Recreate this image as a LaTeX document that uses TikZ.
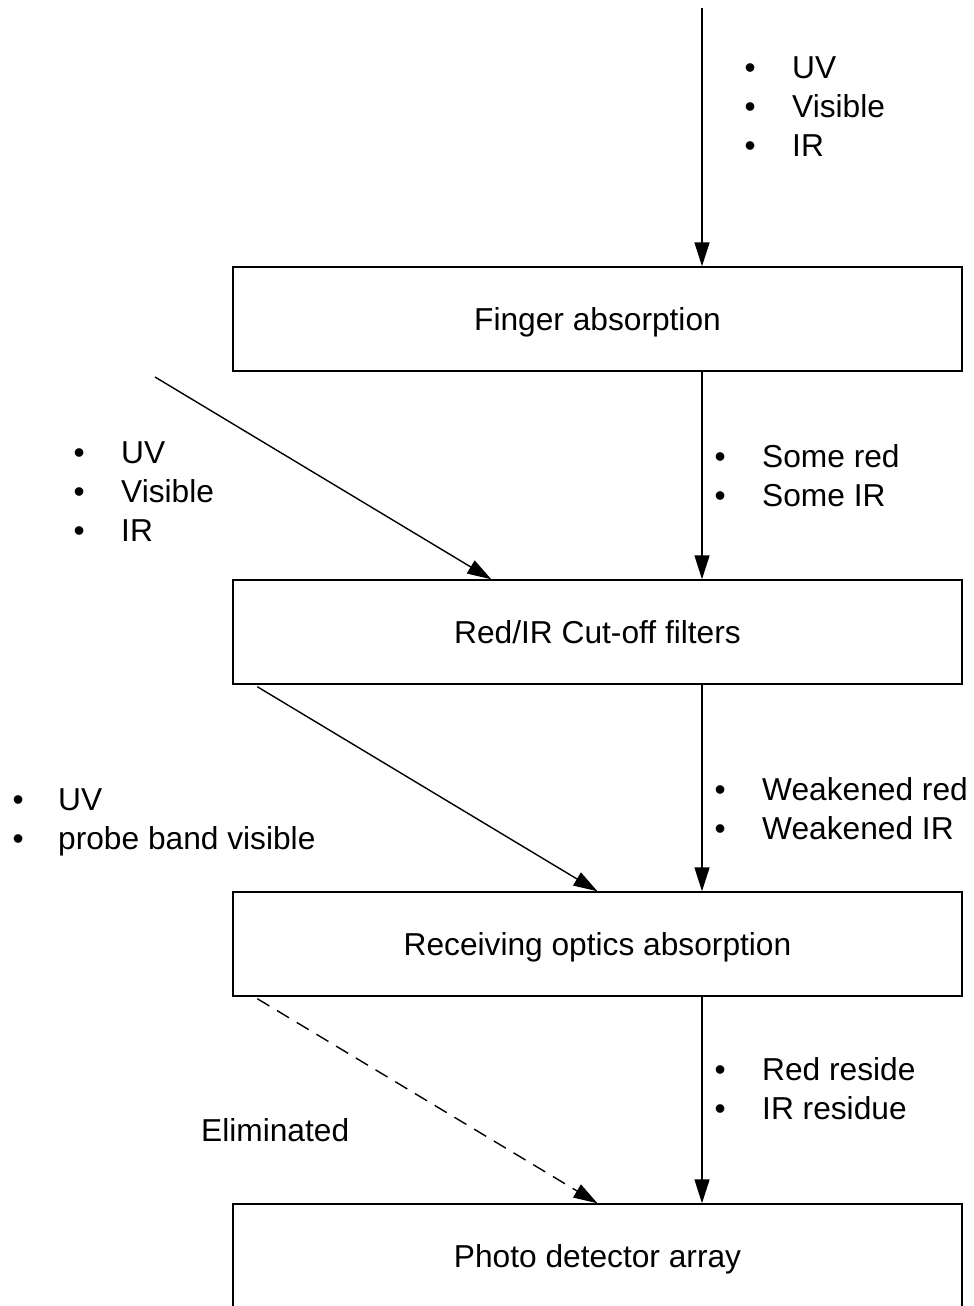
\documentclass[tikz,border=0pt]{standalone}
\usepackage{fontspec}
\setmainfont{Liberation Sans}
\usetikzlibrary{arrows.meta,calc}
\newcommand{\bitem}[1]{\makebox[42pt][l]{\hspace{-5.5pt}•}#1}
\begin{document}
\begin{tikzpicture}[x=1pt,y=-1pt,
  every node/.style={font=\fontsize{31.7}{39}\selectfont},
  stage/.style={draw,line width=1.4pt,minimum width=729pt,minimum height=104pt,inner sep=0pt,text height=22.7pt,text depth=0pt},
  lst/.style={anchor=base west,inner sep=0pt},
  arr/.style={line width=1.4pt,-{Triangle[length=24pt,width=15pt]}},
  darr/.style={arr,dash pattern=on 14pt off 9pt}]
\useasboundingbox (0,0) rectangle (974,1306);
\clip (0,0) rectangle (974,1306);
% stages
\node[stage] (b1) at (597.5,319) {Finger absorption};
\node[stage] (b2) at (597.5,632) {Red/IR Cut-off filters};
\node[stage] (b3) at (597.5,944) {Receiving optics absorption};
\node[stage] (b4) at (597.5,1256) {Photo detector array};
% coordinates
\coordinate (top) at (702,8);
\coordinate (src1) at (155,377);
\coordinate (e1) at ($(b2.north west)+(259,0)$);
\coordinate (s2) at ($(b2.south west)+(25,2)$);
\coordinate (s3) at ($(b3.south west)+(25,2)$);
% vertical arrows
\draw[arr] (top) -- (top |- b1.north);
\draw[arr] (b1.south -| top) -- (b2.north -| top);
\draw[arr] (b2.south -| top) -- (b3.north -| top);
\draw[arr] (b3.south -| top) -- (b4.north -| top);
% diagonal arrows
\draw[arr] (src1) -- (e1);
\draw[arr] (s2) -- (b3.north);
\draw[darr] (s3) -- (b4.north);
% labels
\node[lst] (l1) at (750,78) {\begin{tabular}[t]{@{}l@{}}\bitem{UV}\\\bitem{Visible}\\\bitem{IR}\end{tabular}};
\node[lst] (l2) at (79,463) {\begin{tabular}[t]{@{}l@{}}\bitem{UV}\\\bitem{Visible}\\\bitem{IR}\end{tabular}};
\node[lst] (l3) at (720,467) {\begin{tabular}[t]{@{}l@{}}\bitem{Some red}\\\bitem{Some IR}\end{tabular}};
\node[lst] (l4) at (18,810) {\begin{tabular}[t]{@{}l@{}}\makebox[40pt][l]{\hspace{-5.5pt}•}UV\\\makebox[40pt][l]{\hspace{-5.5pt}•}probe band visible\end{tabular}};
\node[lst] (l5) at (720,800) {\begin{tabular}[t]{@{}l@{}}\bitem{Weakened red}\\\bitem{Weakened IR}\end{tabular}};
\node[lst] (l6) at (720,1080) {\begin{tabular}[t]{@{}l@{}}\bitem{Red reside}\\\bitem{IR residue}\end{tabular}};
\node[lst] (l7) at (201,1141) {Eliminated};
\end{tikzpicture}
\end{document}
